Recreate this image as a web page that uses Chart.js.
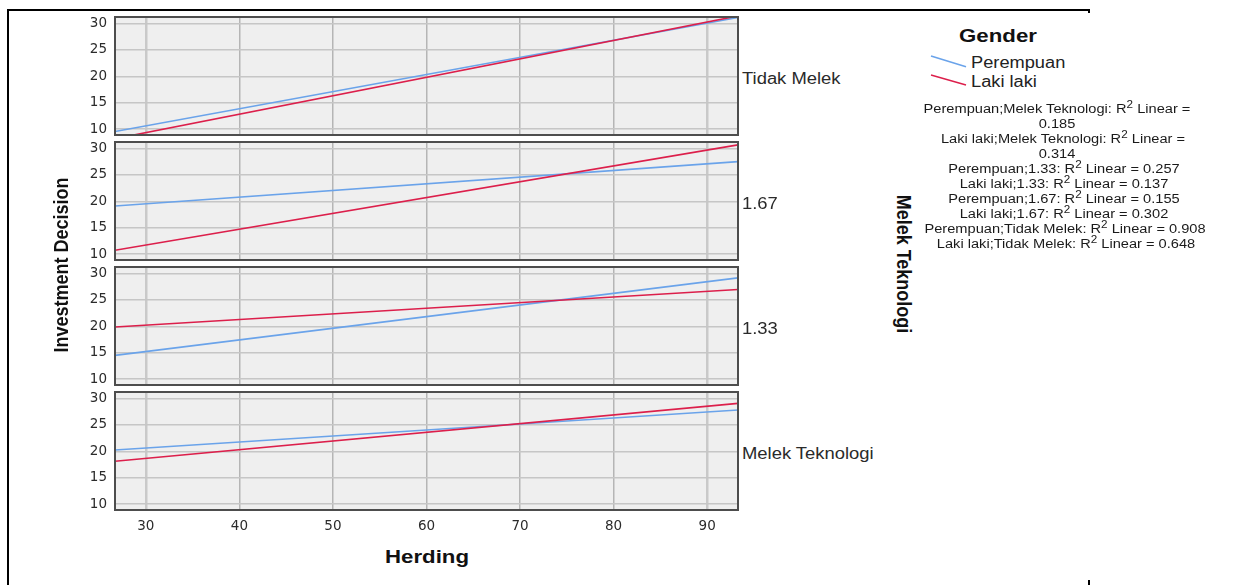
<!DOCTYPE html>
<html>
<head>
<meta charset="utf-8">
<script src="https://cdn.jsdelivr.net/npm/chart.js@4.4.1/dist/chart.umd.min.js"></script>
<style>
html,body{margin:0;padding:0;background:#fff;}
#stage{position:relative;width:1233px;height:585px;overflow:hidden;font-family:"Liberation Sans",Arial,sans-serif;color:#222;}
#stage canvas{position:absolute;}
.t{position:absolute;white-space:nowrap;line-height:1;transform-origin:0 0;}
.frame{position:absolute;background:#000;}
sup{font-size:0.8em;line-height:0;vertical-align:0.45em;}
</style>
</head>
<body>
<div id="stage"></div>
<script>
// ---------- data ----------
const herdingEnds = [26.7, 93.3];            // x values where the fit lines start / end
const panelLabels = ['Tidak Melek', '1.67', '1.33', 'Melek Teknologi'];
const perempuanTidakMelek = [9.55, 31.1];
const lakiTidakMelek      = [8.2, 31.4];
const perempuan167        = [19.1, 27.5];
const laki167             = [10.75, 30.65];
const perempuan133        = [14.5, 29.15];
const laki133             = [19.85, 26.95];
const perempuanMelek      = [20.25, 27.8];
const lakiMelek           = [18.1, 29.05];
const xTickStep = 10;   // 30 ... 90
const yTickStep = 5;    // 10 ... 30
const xRange = [26.7, 93.3];
const yRange = [8.9, 31.2];
const seriesNames = ['Perempuan', 'Laki laki'];
const r2Lines = [
  ['Perempuan;Melek Teknologi: R', ' Linear ='],
  ['0.185', null],
  ['Laki laki;Melek Teknologi: R', ' Linear ='],
  ['0.314', null],
  ['Perempuan;1.33: R', ' Linear = 0.257'],
  ['Laki laki;1.33: R', ' Linear = 0.137'],
  ['Perempuan;1.67: R', ' Linear = 0.155'],
  ['Laki laki;1.67: R', ' Linear = 0.302'],
  ['Perempuan;Tidak Melek: R', ' Linear = 0.908'],
  ['Laki laki;Tidak Melek: R', ' Linear = 0.648']
];
const panelSeries = [
  [perempuanTidakMelek, lakiTidakMelek],
  [perempuan167, laki167],
  [perempuan133, laki133],
  [perempuanMelek, lakiMelek]
];

// ---------- styling / layout ----------
const BLUE = '#6aa3ea';
const RED = '#dc1f4b';
const stage = document.getElementById('stage');
const panelTops = [17, 142, 267, 392];
const panelH = 118;
const canvasLeft = 60;

function addText(html, x, y, opts) {
  const d = document.createElement('div');
  d.className = 't';
  d.innerHTML = html;
  d.style.left = x + 'px';
  d.style.top = y + 'px';
  d.style.fontSize = (opts.size || 16) + 'px';
  if (opts.bold) d.style.fontWeight = 'bold';
  if (opts.color) d.style.color = opts.color;
  d.style.transform = opts.transform;
  stage.appendChild(d);
  return d;
}
function addRect(x, y, w, h) {
  const d = document.createElement('div');
  d.className = 'frame';
  d.style.left = x + 'px'; d.style.top = y + 'px';
  d.style.width = w + 'px'; d.style.height = h + 'px';
  stage.appendChild(d);
}
// outer frame pieces
addRect(7, 9, 2, 576);
addRect(7, 9, 1083, 2);
addRect(1088, 9, 2, 4);
addRect(1088, 580, 2, 5);

const panelFrame = {
  id: 'panelFrame',
  beforeDraw(c) {
    const a = c.chartArea, ctx = c.ctx;
    ctx.save();
    ctx.fillStyle = '#efefef';
    ctx.fillRect(a.left, a.top, a.right - a.left, a.bottom - a.top);
    ctx.restore();
  },
  afterDraw(c) {
    const a = c.chartArea, ctx = c.ctx;
    ctx.save();
    ctx.strokeStyle = '#4d4d4d';
    ctx.lineWidth = 2;
    ctx.strokeRect(a.left, a.top, a.right - a.left, a.bottom - a.top);
    ctx.restore();
  }
};

Chart.defaults.font.family = '"DejaVu Sans", sans-serif';

panelSeries.forEach((pair, i) => {
  const last = i === panelSeries.length - 1;
  const cv = document.createElement('canvas');
  const h = panelH + 10 + (last ? 30 : 10);
  const w = 680;
  cv.width = w; cv.height = h;
  cv.style.left = canvasLeft + 'px';
  cv.style.top = (panelTops[i] - 10) + 'px';
  cv.style.width = w + 'px'; cv.style.height = h + 'px';
  stage.appendChild(cv);
  const mk = (vals) => herdingEnds.map((x, k) => ({x: x, y: vals[k]}));
  new Chart(cv, {
    type: 'line',
    data: {
      datasets: [
        {label: seriesNames[1], data: mk(pair[1]), borderColor: RED, borderWidth: 1.6, pointRadius: 0, fill: false},
        {label: seriesNames[0], data: mk(pair[0]), borderColor: BLUE, borderWidth: 1.6, pointRadius: 0, fill: false}
      ]
    },
    options: {
      responsive: false,
      animation: false,
      devicePixelRatio: 1,
      layout: {padding: {top: 10, bottom: last ? 0 : 10, left: 0, right: 2}},
      plugins: {legend: {display: false}, tooltip: {enabled: false}},
      events: [],
      scales: {
        x: {
          type: 'linear',
          min: xRange[0], max: xRange[1],
          border: {display: false},
          grid: {
            drawTicks: false,
            color: (ctx) => (ctx.tick && (ctx.tick.value === 30 || ctx.tick.value === 90)) ? '#c9c9c9' : '#b5b5b5',
            lineWidth: (ctx) => (ctx.tick && (ctx.tick.value === 30 || ctx.tick.value === 90)) ? 2.5 : 1.5
          },
          ticks: {
            display: last,
            stepSize: xTickStep,
            includeBounds: false,
            padding: 8,
            color: '#2b2b2b',
            font: {size: 13.5},
            maxRotation: 0
          },
          afterFit: (s) => { s.height = last ? 30 : 0; s.paddingLeft = 0; s.paddingRight = 0; }
        },
        y: {
          type: 'linear',
          min: yRange[0], max: yRange[1],
          border: {display: false},
          grid: {drawTicks: false, color: '#c6c6c6', lineWidth: 1.5},
          ticks: {
            stepSize: yTickStep,
            includeBounds: false,
            padding: 8,
            color: '#2b2b2b',
            font: {size: 13.5}
          },
          afterFit: (s) => { s.width = 55; s.paddingTop = 0; s.paddingBottom = 0; }
        }
      }
    },
    plugins: [panelFrame]
  });
  // facet label on the right
  addText(panelLabels[i], 742, panelTops[i] + panelH / 2 + 2.5,
    {size: 16, color: '#2a2a2a', transform: 'scaleX(1.15) translate(0,-50%)'});
});

// axis titles
addText('Herding', 427, 556, {size: 19, bold: true, color: '#111', transform: 'scaleX(1.17) translate(-50%,-50%)'});
addText('Investment Decision', 61, 264.5, {size: 18, bold: true, color: '#111', transform: 'scaleX(1.17) rotate(-90deg) translate(-50%,-50%)'});
addText('Melek Teknologi', 904, 264, {size: 18, bold: true, color: '#111', transform: 'scaleX(1.17) rotate(90deg) translate(-50%,-50%)'});

// legend
addText('Gender', 998, 35, {size: 19, bold: true, color: '#111', transform: 'scaleX(1.17) translate(-50%,-50%)'});
addText(seriesNames[0], 971, 63, {size: 16, color: '#222', transform: 'scaleX(1.14) translate(0,-50%)'});
addText(seriesNames[1], 971, 82, {size: 16, color: '#222', transform: 'scaleX(1.14) translate(0,-50%)'});
const svgNS = 'http://www.w3.org/2000/svg';
const svg = document.createElementNS(svgNS, 'svg');
svg.setAttribute('width', '1233'); svg.setAttribute('height', '585');
svg.style.position = 'absolute'; svg.style.left = '0'; svg.style.top = '0';
[[BLUE, 56, 66.7], [RED, 75, 85]].forEach(([col, y1, y2]) => {
  const l = document.createElementNS(svgNS, 'line');
  l.setAttribute('x1', 931); l.setAttribute('y1', y1);
  l.setAttribute('x2', 966); l.setAttribute('y2', y2);
  l.setAttribute('stroke', col); l.setAttribute('stroke-width', '1.5');
  svg.appendChild(l);
});
stage.appendChild(svg);

// R-squared annotation lines
const r2Centers = [1057, 1057, 1063, 1057, 1064, 1064, 1064, 1064, 1065, 1066];
r2Lines.forEach((ln, k) => {
  const html = ln[1] === null ? ln[0] : ln[0] + '<sup>2</sup>' + ln[1];
  addText(html, r2Centers[k], 108.5 + 15 * k, {size: 12.5, color: '#1a1a1a', transform: 'scaleX(1.17) translate(-50%,-50%)'});
});
</script>
</body>
</html>
